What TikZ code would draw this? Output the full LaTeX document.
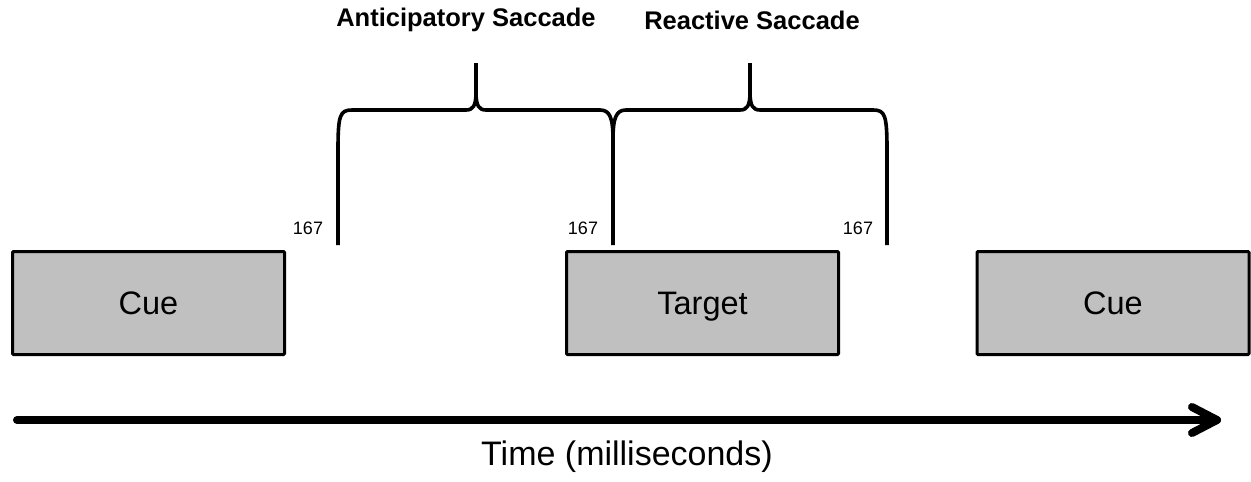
\documentclass[tikz,border=0pt]{standalone}
\usepackage{fontspec}
\setmainfont{Liberation Sans}
\begin{document}
\begin{tikzpicture}[x=1pt,y=-1pt,
  event/.style={draw=black,line width=3pt,fill=eventgray,rounded corners=1pt,
    minimum width=272pt,minimum height=103pt,inner sep=0pt,
    text height=23.3pt,text depth=0pt,
    font=\fontsize{32.5}{38}\selectfont},
  stamp/.style={font=\fontsize{18}{22}\selectfont,inner sep=0pt},
  bracelabel/.style={font=\fontsize{25.5}{30}\selectfont\bfseries,inner sep=0pt},
  brace/.style={line width=3.6pt,line cap=butt,line join=round},
  axis/.style={line width=8pt,line cap=round,line join=round}]
\definecolor{eventgray}{RGB}{192,192,192}
\useasboundingbox (0,0) rectangle (1251,482);

% events along the trial
\node[event] (cue1)   at (148.5,303) {Cue};
\node[event] (target) at (702.5,303) {Target};
\node[event] (cue2)   at (1113,303)  {Cue};

% brace end points
\coordinate (a) at (338,245);
\coordinate (b) at (613,245);
\coordinate (c) at (887,245);

% anticipatory brace
\draw[brace] (a) -- (338,150) .. controls (338,115) and (340,110) .. (352,110)
  -- (466,110) .. controls (473,110) and (476,106) .. (476,92) -- (476,63);
\draw[brace] (476,92) .. controls (476,106) and (479,110) .. (486,110)
  -- (600,110) .. controls (610,110) and (613,118) .. (613,140) -- (b);
% reactive brace
\draw[brace] (613,140) .. controls (613,118) and (616,110) .. (626,110)
  -- (740,110) .. controls (747,110) and (750,106) .. (750,92) -- (750,63);
\draw[brace] (750,92) .. controls (750,106) and (753,110) .. (760,110)
  -- (873,110) .. controls (885,110) and (887,115) .. (887,150) -- (c);

% time stamps
\node[stamp] (t1) at (308,228) {167};
\node[stamp] (t2) at (583,228) {167};
\node[stamp] (t3) at (858,228) {167};

% brace titles
\node[bracelabel] (ant) at (466,20) {Anticipatory Saccade};
\node[bracelabel] (rea) at (752,20) {Reactive Saccade};

% time axis
\coordinate (tstart) at (17,420);
\coordinate (tend) at (1217,420);
\draw[axis] (tstart) -- (tend);
\draw[axis] (1192,407) -- (tend) -- (1192,433);
\node[font=\fontsize{34}{40}\selectfont,inner sep=0pt] (time) at (627,457) {Time (milliseconds)};
\end{tikzpicture}
\end{document}
